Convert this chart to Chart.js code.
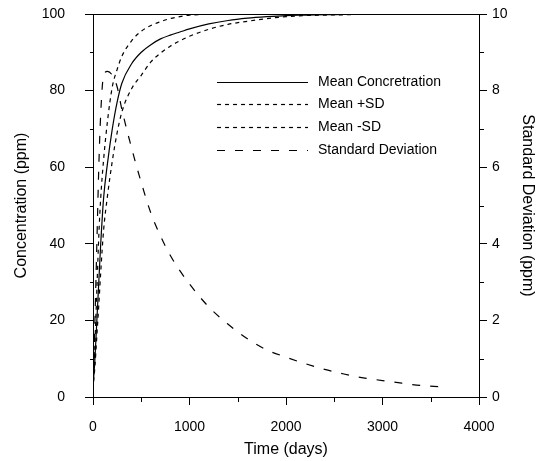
<!DOCTYPE html>
<html>
<head>
<meta charset="utf-8">
<script src="https://cdn.jsdelivr.net/npm/chart.js@4.4.0/dist/chart.umd.min.js"></script>
<style>
  html, body { margin: 0; padding: 0; background: #fff; }
  #wrap { width: 540px; height: 461px; }
</style>
</head>
<body>
<div id="wrap"><canvas id="c" width="540" height="461"></canvas></div>
<script>
// time in days
const days = [0, 10, 20, 40, 60, 80, 110, 150, 200, 250, 300, 400, 500, 600, 700, 800, 900, 1000,
  1200, 1400, 1600, 1800, 2000, 2200, 2400, 2600, 2800, 3000, 3200, 3400, 3600];

// concentration (ppm), left axis
const meanConc = [3, 6, 10, 20, 30, 40, 52, 61, 70, 77, 82, 87, 90, 92, 93.5, 94.5, 95.3, 96.1,
  97.4, 98.3, 98.9, 99.3, 99.6, 99.7, 99.8, 99.9, 99.9, 100, 100, 100, 100];
const meanPlusSd = [4, 8, 14, 28, 42, 52, 62, 72, 81, 85.5, 89, 93, 95.5, 97, 98, 98.8, 99.3, 99.7,
  99.9, 100, 100, 100, 100, 100, 100, 100, 100, 100, 100, 100, 100];
const meanMinusSd = [2, 5, 8, 16, 24, 32.6, 43.6, 52.5, 61.6, 69, 74.5, 80.5, 84, 87.5, 89.8, 91.6, 93, 94.2,
  96, 97.3, 98.1, 98.8, 99.3, 99.6, 99.7, 99.8, 99.9, 99.9, 99.9, 99.9, 99.9];

// standard deviation (ppm), right axis
const stdDev = [0.5, 1, 2, 4, 6, 7.4, 8.4, 8.5, 8.4, 8.1, 7.5, 6.5, 5.6, 4.8, 4.2, 3.7, 3.3, 2.95,
  2.35, 1.9, 1.52, 1.23, 1.04, 0.87, 0.72, 0.6, 0.5, 0.43, 0.36, 0.3, 0.27];

const seriesLabels = ['Mean Concretration', 'Mean +SD', 'Mean -SD', 'Standard Deviation'];

const FONT = '"Liberation Sans", Arial, sans-serif';
const pts = (ys) => days.map((d, i) => ({ x: d, y: ys[i] }));

// box around the plot + minor ticks
const frame = {
  id: 'frame',
  afterDraw(chart) {
    const { ctx, chartArea: a, scales } = chart;
    ctx.save();
    ctx.strokeStyle = '#000';
    ctx.lineWidth = 1;
    ctx.beginPath();
    ctx.moveTo(a.left, Math.round(a.top) + 0.5);
    ctx.lineTo(a.right, Math.round(a.top) + 0.5);
    ctx.stroke();

    const minor = (scale, step, len) => {
      for (let v = scale.min + step / 2; v < scale.max; v += step) {
        const p = Math.round(scale.getPixelForValue(v)) + 0.5;
        ctx.beginPath();
        if (scale.axis === 'x') {
          ctx.moveTo(p, a.bottom); ctx.lineTo(p, a.bottom + len);
        } else if (scale.position === 'left') {
          ctx.moveTo(a.left, p); ctx.lineTo(a.left - len, p);
        } else {
          ctx.moveTo(a.right, p); ctx.lineTo(a.right + len, p);
        }
        ctx.stroke();
      }
    };
    minor(scales.x, 1000, 5);
    minor(scales.y, 20, 3);
    minor(scales.y1, 2, 5);
    ctx.restore();
  }
};

// legend drawn inside the plot
const insideLegend = {
  id: 'insideLegend',
  afterDatasetsDraw(chart) {
    const { ctx } = chart;
    const x0 = 217, x1 = 308, tx = 318;
    const rows = [82, 104, 127, 150];
    ctx.save();
    ctx.font = '14px ' + FONT;
    ctx.fillStyle = '#000';
    ctx.textBaseline = 'middle';
    chart.data.datasets.forEach((ds, i) => {
      ctx.strokeStyle = '#000';
      ctx.lineWidth = 1.2;
      ctx.setLineDash(ds.borderDash || []);
      ctx.beginPath();
      ctx.moveTo(x0, rows[i] + 0.5);
      ctx.lineTo(x1, rows[i] + 0.5);
      ctx.stroke();
      ctx.fillText(ds.label, tx, rows[i]);
    });
    ctx.restore();
  }
};

const lineStyle = { borderColor: '#000', borderWidth: 1.2, pointRadius: 0, fill: false, cubicInterpolationMode: 'monotone' };

new Chart(document.getElementById('c'), {
  type: 'line',
  data: {
    datasets: [
      { ...lineStyle, label: seriesLabels[0], data: pts(meanConc), yAxisID: 'y' },
      { ...lineStyle, label: seriesLabels[1], data: pts(meanPlusSd), yAxisID: 'y', borderDash: [4, 4] },
      { ...lineStyle, label: seriesLabels[2], data: pts(meanMinusSd), yAxisID: 'y', borderDash: [4, 4] },
      { ...lineStyle, label: seriesLabels[3], data: pts(stdDev), yAxisID: 'y1', borderDash: [8, 10] }
    ]
  },
  options: {
    responsive: false,
    devicePixelRatio: 1,
    animation: false,
    layout: { padding: { top: 14, left: 0, right: 0, bottom: 0 } },
    plugins: { legend: { display: false }, tooltip: { enabled: false } },
    scales: {
      x: {
        type: 'linear', min: 0, max: 4000,
        ticks: { stepSize: 1000, padding: 14, color: '#000', maxRotation: 0, font: { family: FONT, size: 14 },
          callback: (v) => String(v) },
        grid: { drawOnChartArea: false, tickLength: 8, color: '#000' },
        border: { color: '#000' },
        title: { display: true, text: 'Time (days)', color: '#000', font: { family: FONT, size: 16 }, padding: { top: 0, bottom: 2 } },
        afterFit: (s) => { s.height = 64; }
      },
      y: {
        position: 'left', min: 0, max: 100,
        ticks: { stepSize: 20, padding: 20, color: '#000', font: { family: FONT, size: 14 } },
        grid: { drawOnChartArea: false, tickLength: 8, color: '#000' },
        border: { color: '#000' },
        title: { display: true, text: 'Concentration (ppm)', color: '#000', font: { family: FONT, size: 16 }, padding: { top: 12, bottom: 0 } },
        afterFit: (s) => { s.width = 93; s.paddingTop = 8; s.paddingBottom = 8; }
      },
      y1: {
        position: 'right', min: 0, max: 10,
        ticks: { stepSize: 2, padding: 5, color: '#000', font: { family: FONT, size: 14 } },
        grid: { drawOnChartArea: false, tickLength: 8, color: '#000' },
        border: { color: '#000' },
        title: { display: true, text: 'Standard Deviation (ppm)', color: '#000', font: { family: FONT, size: 16 }, padding: { top: 3, bottom: 0 } },
        afterFit: (s) => { s.width = 61; s.paddingTop = 8; s.paddingBottom = 8; }
      }
    }
  },
  plugins: [frame, insideLegend]
});
</script>
</body>
</html>
